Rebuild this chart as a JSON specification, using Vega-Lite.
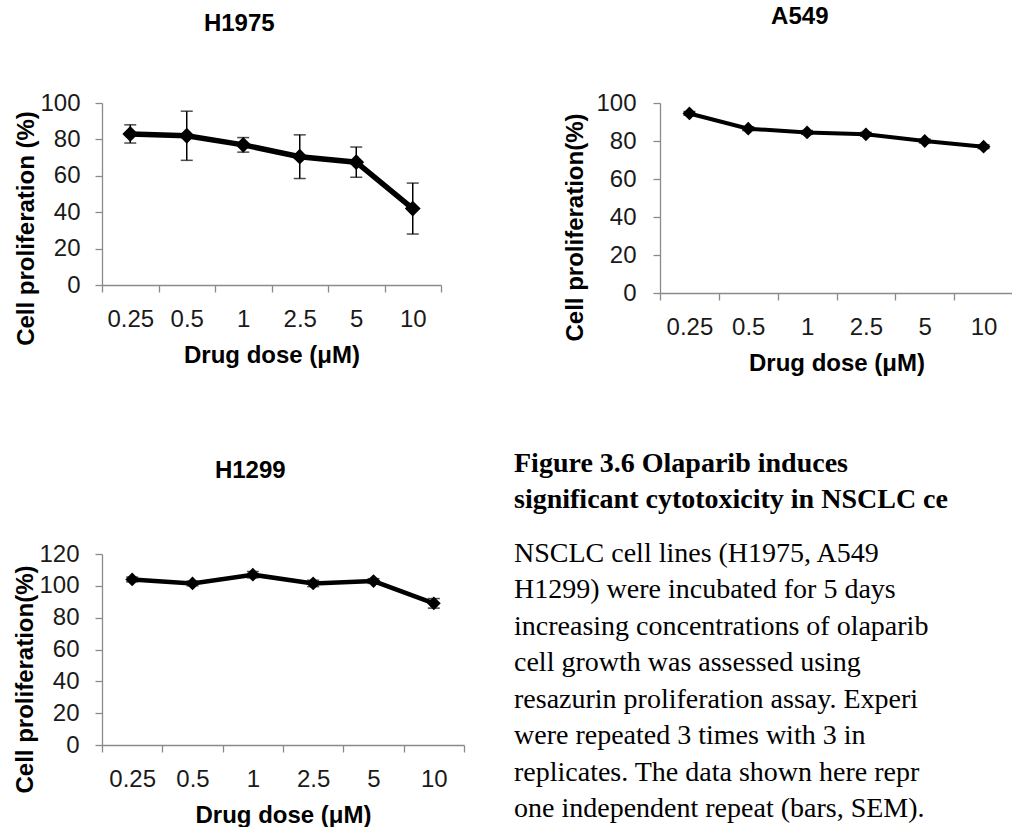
{
  "$schema": "https://vega.github.io/schema/vega-lite/v6.json",
  "background": "white",
  "padding": {"left": 13, "top": 5, "right": 0, "bottom": 0},
  "config": {
    "view": {"stroke": null},
    "font": "Liberation Sans",
    "title": {"font": "Liberation Sans", "fontSize": 24, "fontWeight": "bold", "color": "black", "anchor": "middle", "frame": "bounds", "baseline": "alphabetic", "dx": 11},
    "axis": {"grid": false, "domainColor": "#8a8a8a", "tickColor": "#8a8a8a", "domainWidth": 1.3, "tickWidth": 1.3, "tickSize": 7, "labelFont": "Liberation Sans", "labelFontSize": 24, "labelColor": "#1a1a1a", "titleFont": "Liberation Sans", "titleFontSize": 24, "titleFontWeight": "bold", "titleColor": "black", "labelOverlap": false},
    "axisX": {"labelAngle": 0, "tickBand": "extent", "labelPadding": 15, "titlePadding": 12},
    "axisY": {"labelPadding": 15, "titlePadding": 1}
  },
  "datasets": {
    "h1975": [
      {"dose": "0.25", "mean": 83, "sem": 5},
      {"dose": "0.5", "mean": 82, "sem": 13.5},
      {"dose": "1", "mean": 77, "sem": 4},
      {"dose": "2.5", "mean": 70.5, "sem": 12},
      {"dose": "5", "mean": 67.5, "sem": 8.3},
      {"dose": "10", "mean": 42, "sem": 14}
    ],
    "a549": [
      {"dose": "0.25", "mean": 94.5, "sem": 1},
      {"dose": "0.5", "mean": 86.5, "sem": 1},
      {"dose": "1", "mean": 84.5, "sem": 1},
      {"dose": "2.5", "mean": 83.5, "sem": 1},
      {"dose": "5", "mean": 80, "sem": 1},
      {"dose": "10", "mean": 77, "sem": 1}
    ],
    "h1299": [
      {"dose": "0.25", "mean": 104, "sem": 1.5},
      {"dose": "0.5", "mean": 101.5, "sem": 1.5},
      {"dose": "1", "mean": 107, "sem": 2},
      {"dose": "2.5", "mean": 101.5, "sem": 2},
      {"dose": "5", "mean": 103, "sem": 1.5},
      {"dose": "10", "mean": 89, "sem": 3}
    ],
    "caption": [
      {"line": 1, "text": "NSCLC cell lines (H1975, A549"},
      {"line": 2, "text": "H1299) were incubated for 5 days"},
      {"line": 3, "text": "increasing concentrations of olaparib"},
      {"line": 4, "text": "cell growth was assessed using"},
      {"line": 5, "text": "resazurin proliferation assay. Experi"},
      {"line": 6, "text": "were repeated 3 times with 3 in"},
      {"line": 7, "text": "replicates. The data shown here repr"},
      {"line": 8, "text": "one independent repeat (bars, SEM)."}
    ]
  },
  "spacing": 75,
  "vconcat": [
    {
      "spacing": 121,
      "hconcat": [
        {
          "width": 339, "height": 182,
          "title": {"text": "H1975", "offset": 55},
          "data": {"name": "h1975"},
          "encoding": {
            "x": {"field": "dose", "type": "ordinal", "sort": null, "scale": {"type": "band", "paddingInner": 0, "paddingOuter": 0}, "axis": {"title": "Drug dose (μM)"}},
            "y": {"field": "mean", "type": "quantitative", "scale": {"domain": [0, 100]}, "axis": {"title": "Cell proliferation (%)", "values": [0, 20, 40, 60, 80, 100], "titleY": 125}}
          },
          "layer": [
            {"mark": {"type": "errorbar", "ticks": {"size": 12}, "thickness": 1.5, "color": "black"}, "encoding": {"yError": {"field": "sem"}}},
            {"mark": {"type": "line", "color": "black", "strokeWidth": 5.5}},
            {"mark": {"type": "point", "shape": "diamond", "filled": true, "color": "black", "size": 250, "opacity": 1}}
          ]
        },
        {
          "width": 353, "height": 190,
          "title": {"text": "A549", "offset": 62},
          "data": {"name": "a549"},
          "encoding": {
            "x": {"field": "dose", "type": "ordinal", "sort": null, "scale": {"type": "band", "paddingInner": 0, "paddingOuter": 0}, "axis": {"title": "Drug dose (μM)"}},
            "y": {"field": "mean", "type": "quantitative", "scale": {"domain": [0, 100]}, "axis": {"title": "Cell proliferation(%)", "values": [0, 20, 40, 60, 80, 100], "titleY": 124, "labelPadding": 17, "titlePadding": 8}}
          },
          "layer": [
            {"mark": {"type": "errorbar", "ticks": {"size": 12}, "thickness": 1.5, "color": "black"}, "encoding": {"yError": {"field": "sem"}}},
            {"mark": {"type": "line", "color": "black", "strokeWidth": 4}},
            {"mark": {"type": "point", "shape": "diamond", "filled": true, "color": "black", "size": 190, "opacity": 1}}
          ]
        }
      ]
    },
    {
      "spacing": 49,
      "hconcat": [
        {
          "width": 362, "height": 191,
          "title": {"text": "H1299", "offset": 59},
          "data": {"name": "h1299"},
          "encoding": {
            "x": {"field": "dose", "type": "ordinal", "sort": null, "scale": {"type": "band", "paddingInner": 0, "paddingOuter": 0}, "axis": {"title": "Drug dose (μM)"}},
            "y": {"field": "mean", "type": "quantitative", "scale": {"domain": [0, 120]}, "axis": {"title": "Cell proliferation(%)", "values": [0, 20, 40, 60, 80, 100, 120], "titleY": 125, "labelPadding": 16, "titlePadding": 1}}
          },
          "layer": [
            {"mark": {"type": "errorbar", "ticks": {"size": 12}, "thickness": 1.5, "color": "black"}, "encoding": {"yError": {"field": "sem"}}},
            {"mark": {"type": "line", "color": "black", "strokeWidth": 4.5}},
            {"mark": {"type": "point", "shape": "diamond", "filled": true, "color": "black", "size": 190, "opacity": 1}}
          ]
        },
        {
          "width": 1, "height": 255,
          "title": {"text": ["Figure 3.6 Olaparib induces", "significant cytotoxicity in NSCLC ce"], "anchor": "start", "frame": "group", "font": "Liberation Serif", "fontSize": 28, "fontWeight": "bold", "lineHeight": 36, "baseline": "bottom", "offset": -2, "dx": 0},
          "data": {"name": "caption"},
          "mark": {"type": "text", "align": "left", "baseline": "middle", "font": "Liberation Serif", "fontSize": 28, "color": "black"},
          "encoding": {
            "x": {"datum": 0, "type": "quantitative", "scale": {"domain": [0, 1]}, "axis": null},
            "y": {"field": "line", "type": "ordinal", "scale": {"type": "point", "padding": 0}, "axis": null},
            "text": {"field": "text"}
          }
        }
      ]
    }
  ]
}
